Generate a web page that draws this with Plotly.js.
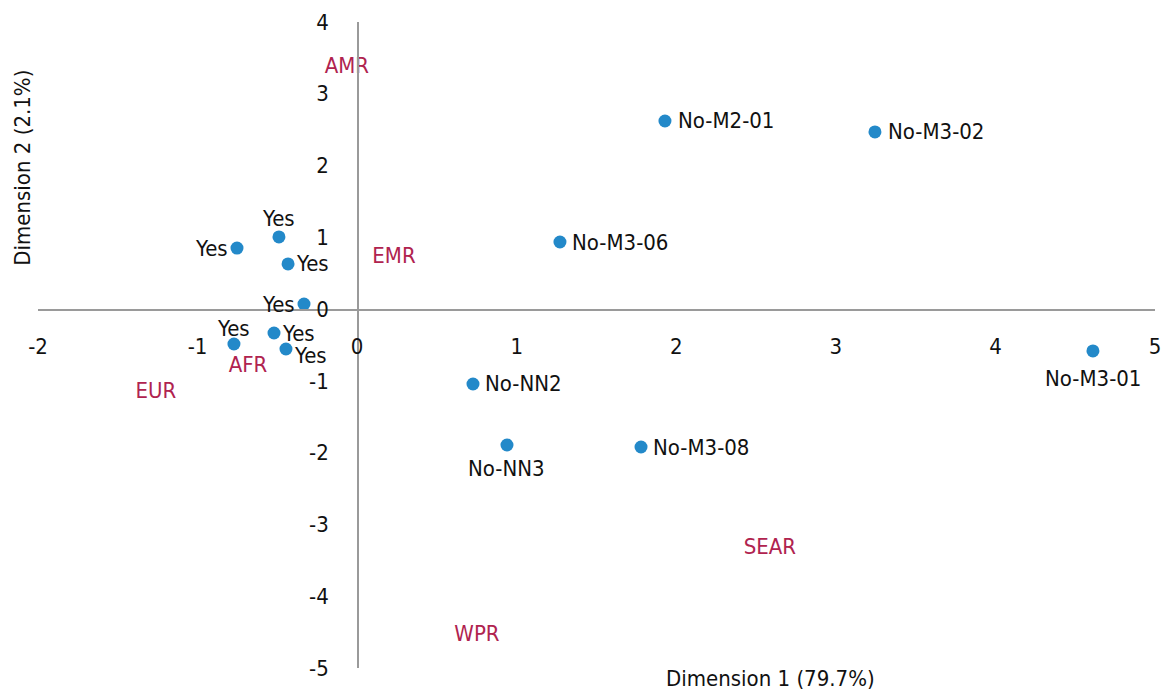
<!DOCTYPE html>
<html>
<head>
<meta charset="utf-8">
<script src="https://cdn.plot.ly/plotly-3.0.1.min.js"></script>
<style>html,body{margin:0;padding:0;background:#fff;}#chart{width:1166px;height:691px;}</style>
</head>
<body>
<div id="chart"></div>
<script>
// Row points (blue markers)
const pointLabels = ["Yes","Yes","Yes","Yes","Yes","Yes","Yes","No-M2-01","No-M3-02","No-M3-06","No-M3-01","No-NN2","No-NN3","No-M3-08"];
const pointX = [-0.753,-0.490,-0.433,-0.333,-0.521,-0.772,-0.446,1.929,3.245,1.271,4.611,0.726,0.939,1.779];
const pointY = [0.851,1.005,0.629,0.071,-0.333,-0.486,-0.556,2.621,2.468,0.935,-0.583,-1.043,-1.893,-1.921];
// label placement (style): side of the marker and pixel offsets
const labelSide = ["left","top","right","left","right","top","right","right","right","right","bottom","right","bottom","right"];
const labelDX = [-9,0,8,-9,8,0,8,13,13,12,0,12,0,12];
const labelDY = [0,6,0,0,0,3,-6,0,0,0,-15,0,-11,0];

// Column points (region text)
const regionLabels = ["AMR","EMR","AFR","EUR","SEAR","WPR"];
const regionX = [-0.064,0.231,-0.684,-1.261,2.587,0.751];
const regionY = [3.373,0.726,-0.806,-1.155,-3.342,-4.554];

const xTicks = [-2,-1,0,1,2,3,4,5];
const yTicks = [-5,-4,-3,-2,-1,0,1,2,3,4];

const FONT = "'Liberation Sans Narrow','DejaVu Sans Condensed','Roboto',sans-serif";
const FS = 22;

const traces = [
  {
    type: "scatter", mode: "markers",
    x: pointX, y: pointY, text: pointLabels,
    marker: {color: "#2389c9", size: 13},
    cliponaxis: false, hoverinfo: "text"
  },
  {
    type: "scatter", mode: "text",
    x: regionX, y: regionY, text: regionLabels, textposition: "middle center",
    textfont: {family: FONT, size: FS, color: "#b0234f"},
    cliponaxis: false, hoverinfo: "text"
  }
];

const anchorFor = {
  left:   {xanchor: "right",  yanchor: "middle"},
  right:  {xanchor: "left",   yanchor: "middle"},
  top:    {xanchor: "center", yanchor: "bottom"},
  bottom: {xanchor: "center", yanchor: "top"}
};

const labelAnnotations = pointLabels.map((t, i) => ({
  text: t, x: pointX[i], y: pointY[i], xref: "x", yref: "y",
  showarrow: false,
  xanchor: anchorFor[labelSide[i]].xanchor,
  yanchor: anchorFor[labelSide[i]].yanchor,
  xshift: labelDX[i], yshift: labelDY[i],
  borderpad: 0, borderwidth: 0,
  font: {family: FONT, size: FS, color: "#111"}
}));

const layout = {
  width: 1166, height: 691,
  margin: {l: 38, r: 11, t: 22, b: 23},
  paper_bgcolor: "#fff", plot_bgcolor: "#fff",
  showlegend: false,
  font: {family: FONT, size: FS, color: "#111"},
  xaxis: {
    range: [-2, 5], tickvals: xTicks, ticktext: xTicks.map(String),
    anchor: "free", position: 5/9,
    showline: true, linecolor: "#9a9a9a", linewidth: 1.5,
    showgrid: false, zeroline: false,
    ticks: "outside", ticklen: 17, tickcolor: "rgba(0,0,0,0)",
    tickfont: {family: FONT, size: FS, color: "#111"}
  },
  yaxis: {
    range: [-5, 4], tickvals: yTicks, ticktext: yTicks.map(String),
    anchor: "free", position: 2/7,
    showline: true, linecolor: "#9a9a9a", linewidth: 1.5,
    showgrid: false, zeroline: false,
    ticks: "outside", ticklen: 24, tickcolor: "rgba(0,0,0,0)",
    tickfont: {family: FONT, size: FS, color: "#111"}
  },
  annotations: labelAnnotations.concat([
    {text: "Dimension 1 (79.7%)", xref: "paper", yref: "paper", x: 0.6555, y: -0.017,
     xanchor: "center", yanchor: "middle", showarrow: false,
     font: {family: FONT, size: FS, color: "#111"}},
    {text: "Dimension 2 (2.1%)", xref: "paper", yref: "paper", x: -0.014, y: 0.775,
     xanchor: "center", yanchor: "middle", showarrow: false, textangle: -90,
     font: {family: FONT, size: FS, color: "#111"}}
  ])
};

Plotly.newPlot("chart", traces, layout, {displayModeBar: false, staticPlot: true});
</script>
</body>
</html>
